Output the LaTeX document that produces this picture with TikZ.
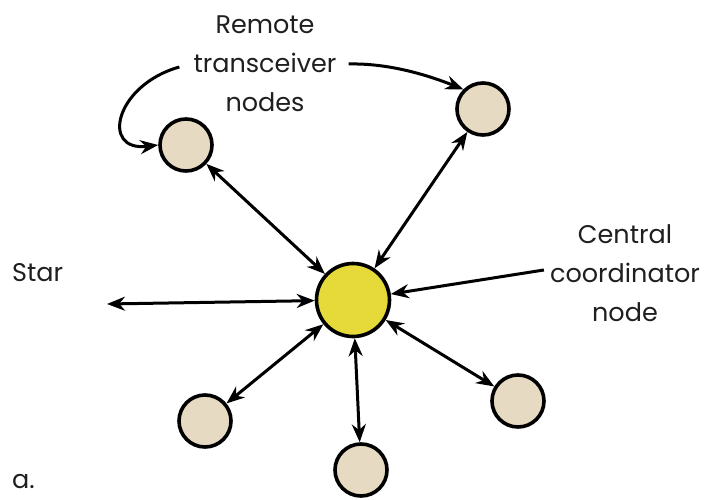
\documentclass[tikz,border=0pt]{standalone}
\usepackage{fontspec}
\setmainfont{Poppins}
\usetikzlibrary{arrows.meta}
\definecolor{beige}{HTML}{E6DAC2}
\definecolor{yel}{HTML}{E6DA3A}
\tikzset{
  remote/.style={circle, draw=black, line width=3.6pt, fill=beige, minimum size=52pt, inner sep=0pt},
  central/.style={circle, draw=black, line width=3.6pt, fill=yel, minimum size=73pt, inner sep=0pt},
  link/.style={line width=3pt, {Stealth[length=18pt,width=14pt]}-{Stealth[length=18pt,width=14pt]}},
  pointer/.style={line width=3pt, -{Stealth[length=18pt,width=14pt]}},
  lbl/.style={align=center, font=\fontsize{25.5}{39}\selectfont, text=black!88, inner sep=0pt}
}
\begin{document}
\begin{tikzpicture}[x=1pt,y=-1pt]
\useasboundingbox (0,0) rectangle (710,500);
\node[central] (c) at (353,300) {};
\node[remote] (tl) at (186,145) {};
\node[remote] (tr) at (483,109) {};
\node[remote] (br) at (518,401) {};
\node[remote] (bm) at (361,470) {};
\node[remote] (bl) at (205,421) {};
\coordinate (lf) at (107,304);
\node[lbl] (rt) at (265,64) {Remote\\transceiver\\nodes};
\node[lbl, anchor=west] (star) at (12,273) {Star};
\node[lbl] (cc) at (625,273) {Central\\coordinator\\node};
\node[lbl, anchor=west] (a) at (12,482) {a.};
\draw[link] (c) -- (tl);
\draw[link] (c) -- (tr);
\draw[link] (c) -- (br);
\draw[link] (c) -- (bm);
\draw[link] (c) -- (bl);
\draw[link] (c) -- (lf);
\draw[pointer] (cc.west |- 0,270) ++(-6,0) coordinate (ccs) -- (c);
\draw[pointer] (rt.west |- 0,67) ++(-14,0) .. controls (115,85) and (100,152) .. (tl.west);
\draw[pointer] (rt.east |- 0,64) ++(12,0) .. controls (390,63) and (430,76) .. (tr.north west);
\end{tikzpicture}
\end{document}
